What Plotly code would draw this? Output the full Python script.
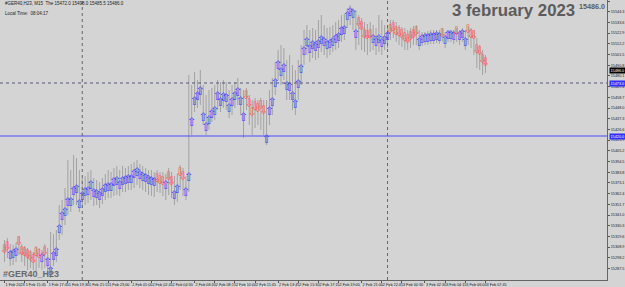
import plotly.graph_objects as go

# ---------------- data ----------------
symbol_header = "#GER40,H23, M15  The 15472.0 15498.0 15485.5 15486.0"
local_time = "Local Time:  08:04:17"
date_caption = "3 february 2023"
last_price = 15486.0
line_dotted_price = 15473.0
line_solid_price = 15420.0
separator_bars = [27, 133]

# signal direction per bar (U = blue up arrow, D = red down arrow)
signal_dir_parts = [
    "DDUUUDDDDDDDDUDUUUU", "UUUUUUUU",
    "UUUUUUUUUUUUUUUUUUUUUUUUUU", "DDDUDDUUDDUU",
    "UUUUUUUUUUUUUUUUUUU", "DDDDDDD", "UUUUUUUUUUUUU",
    "UUUUUUUUUUUUUUUUUUU", "DDDDD", "UUUUUU", "DDDDDDDDDD", "UUUUUUUU",
    "D", "UUUU", "D", "UUU", "DDDDDDD",
]

signal_price = [
    15306, 15309, 15300, 15301, 15303, 15314, 15304, 15303, 15301, 15299, 15296, 15303, 15301, 15297, 15304, 15293, 15284, 15299, 15303,
    15326, 15339, 15343, 15353, 15353, 15364, 15366, 15351,
    15359, 15363, 15364, 15370, 15362, 15361, 15359, 15363, 15367, 15368, 15368, 15373, 15374, 15370, 15374, 15375, 15376, 15376, 15381,
    15383, 15380, 15378, 15377, 15375, 15374, 15373, 15377, 15375, 15374, 15370, 15379, 15374, 15360, 15366, 15383, 15379, 15363, 15378,
    15433, 15454, 15459, 15464, 15438, 15428, 15435, 15441, 15444, 15459, 15453, 15458, 15457, 15447, 15453, 15459, 15463, 15454, 15438,
    15460, 15452, 15443, 15449, 15447, 15450, 15445, 15416, 15444, 15453, 15472, 15490, 15483, 15487, 15469, 15468, 15459, 15451, 15471, 15486,
    15504, 15513, 15506, 15510, 15508, 15511, 15515, 15513, 15510, 15511, 15513, 15516, 15518, 15524, 15525, 15539, 15543, 15541, 15521,
    15533, 15529, 15521, 15520, 15521, 15516, 15513, 15516, 15512, 15515, 15519, 15526, 15528, 15524, 15523, 15521, 15518, 15516, 15519,
    15521, 15524, 15513, 15516, 15517, 15517, 15518, 15518, 15519, 15518, 15522, 15515, 15520, 15520, 15519, 15524, 15519, 15521, 15513,
    15526, 15521, 15520, 15506, 15504, 15496, 15493,
]

bar_high = [
    15316, 15318, 15312, 15311, 15313, 15320, 15312, 15310, 15308, 15306, 15304, 15310, 15308, 15306, 15312, 15308, 15324, 15322, 15326,
    15351, 15356, 15368, 15396, 15386, 15401, 15398, 15386,
    15378, 15380, 15384, 15386, 15378, 15376, 15374, 15378, 15382, 15386, 15384, 15388, 15390, 15386, 15390, 15388, 15390, 15392, 15394,
    15396, 15392, 15390, 15388, 15386, 15386, 15384, 15386, 15384, 15384, 15382, 15388, 15384, 15380, 15382, 15391, 15388, 15380, 15481,
    15471, 15484, 15476, 15486, 15471, 15461, 15466, 15468, 15471, 15476, 15474, 15476, 15474, 15466, 15471, 15474, 15478, 15468, 15466,
    15468, 15461, 15456, 15458, 15456, 15458, 15456, 15456, 15466, 15478, 15494, 15506, 15511, 15508, 15496, 15501, 15491, 15486, 15496, 15511,
    15526, 15531, 15526, 15528, 15526, 15536, 15541, 15531, 15528, 15529, 15531, 15534, 15536, 15541, 15542, 15548, 15551, 15548, 15546,
    15541, 15538, 15534, 15532, 15534, 15531, 15528, 15541, 15536, 15531, 15531, 15536, 15536, 15534, 15531, 15529, 15528, 15526, 15528,
    15530, 15531, 15526, 15524, 15524, 15525, 15526, 15526, 15526, 15526, 15528, 15524, 15526, 15526, 15526, 15528, 15526, 15528, 15526,
    15530, 15528, 15526, 15518, 15511, 15506, 15501,
]

bar_low = [
    15294, 15298, 15290, 15291, 15294, 15301, 15294, 15290, 15286, 15288, 15286, 15284, 15288, 15286, 15288, 15281, 15278, 15290, 15294,
    15316, 15321, 15331, 15341, 15344, 15351, 15351, 15344,
    15348, 15351, 15353, 15356, 15350, 15351, 15348, 15352, 15356, 15358, 15358, 15360, 15361, 15360, 15364, 15364, 15366, 15366, 15368,
    15371, 15368, 15366, 15364, 15361, 15360, 15359, 15364, 15363, 15360, 15356, 15361, 15358, 15351, 15354, 15366, 15360, 15356, 15364,
    15421, 15444, 15448, 15451, 15431, 15421, 15426, 15434, 15436, 15446, 15444, 15448, 15446, 15438, 15441, 15448, 15451, 15441, 15418,
    15446, 15431, 15421, 15428, 15431, 15426, 15421, 15411, 15431, 15441, 15461, 15476, 15471, 15476, 15456, 15456, 15446, 15441, 15456, 15471,
    15491, 15501, 15494, 15498, 15496, 15498, 15504, 15501, 15498, 15501, 15504, 15506, 15508, 15514, 15516, 15528, 15531, 15526, 15506,
    15511, 15506, 15504, 15501, 15504, 15506, 15501, 15504, 15501, 15506, 15508, 15516, 15518, 15514, 15511, 15509, 15506, 15506, 15508,
    15511, 15511, 15506, 15510, 15511, 15511, 15512, 15512, 15513, 15512, 15514, 15508, 15514, 15514, 15512, 15514, 15511, 15514, 15506,
    15511, 15508, 15501, 15488, 15486, 15481, 15483,
]

price_ticks = [15555.0, 15544.3, 15533.6, 15522.9, 15512.2, 15501.5, 15490.8, 15480.1, 15469.4, 15458.7,
               15448.0, 15437.3, 15426.6, 15415.9, 15405.2, 15394.5, 15383.8, 15373.1, 15362.4, 15351.7,
               15341.0, 15330.3, 15319.6, 15308.9, 15298.2, 15287.5]

time_tick_bars = [0, 7, 15, 22, 29, 36, 44, 51, 58, 66, 73, 80, 87, 95, 102, 109, 116, 124, 131, 138, 146, 153, 160, 167]
time_tick_labels = ["1 Feb 2023", "1 Feb 15:45", "1 Feb 17:45", "1 Feb 19:30", "1 Feb 21:15", "1 Feb 23:00",
                    "2 Feb 01:00", "2 Feb 02:45", "2 Feb 04:30", "2 Feb 06:30", "2 Feb 08:15", "2 Feb 10:00",
                    "2 Feb 11:45", "2 Feb 13:45", "2 Feb 15:30", "2 Feb 17:15", "2 Feb 19:00", "2 Feb 21:00",
                    "2 Feb 22:45", "3 Feb 00:30", "3 Feb 02:30", "3 Feb 04:15", "3 Feb 06:00", "3 Feb 07:45"]

# ---------------- figure ----------------
signal_dir = list("".join(signal_dir_parts))
n = len(signal_price)
bars = list(range(n))

bx, by = [], []
for i in bars:
    bx += [i, i, None]
    by += [bar_low[i], bar_high[i], None]

BG = "#d4d4d4"
fig = go.Figure()
fig.add_trace(go.Scatter(x=bx, y=by, mode="lines", line=dict(color="#a2a2a2", width=1),
                         hoverinfo="skip"))

ux = [i for i in bars if signal_dir[i] == "U"]
dx = [i for i in bars if signal_dir[i] == "D"]
fig.add_trace(go.Scatter(x=ux, y=[signal_price[i] for i in ux], mode="text", text=["⇧"] * len(ux),
                         textposition="middle center", cliponaxis=True,
                         textfont=dict(family="DejaVu Sans", size=11.5, color="#4040ff")))
fig.add_trace(go.Scatter(x=dx, y=[signal_price[i] for i in dx], mode="text", text=["⇩"] * len(dx),
                         textposition="middle center", cliponaxis=True,
                         textfont=dict(family="DejaVu Sans", size=11.5, color="#ff5555")))

shapes = [
    dict(type="line", xref="paper", x0=0, x1=1, yref="y", y0=line_dotted_price, y1=line_dotted_price,
         line=dict(color="#55557a", width=1, dash="dot")),
    dict(type="line", xref="paper", x0=0, x1=1, yref="y", y0=line_solid_price, y1=line_solid_price,
         line=dict(color="#4b4bff", width=1)),
]
for s in separator_bars:
    shapes.append(dict(type="line", xref="x", x0=s, x1=s, yref="paper", y0=0, y1=1,
                       line=dict(color="#666666", width=1, dash="dot")))

small = dict(family="Liberation Sans", size=4.5, color="#222222")
annotations = [
    dict(xref="paper", yref="paper", x=0.005, y=0.988, xanchor="left", yanchor="middle",
         text=symbol_header, showarrow=False, font=small),
    dict(xref="paper", yref="paper", x=0.005, y=0.952, xanchor="left", yanchor="middle",
         text=local_time, showarrow=False, font=small),
    dict(xref="paper", yref="paper", x=0.742, y=0.962, xanchor="left", yanchor="middle",
         text="<b>" + date_caption + "</b>", showarrow=False,
         font=dict(family="Liberation Sans", size=16.8, color="#5c5c5c")),
    dict(xref="paper", yref="paper", x=0.951, y=0.978, xanchor="left", yanchor="middle",
         text="<b>%.1f</b>" % last_price, showarrow=False,
         font=dict(family="Liberation Sans", size=7.2, color="#5c5c5c")),
    dict(xref="paper", yref="paper", x=0.002, y=0.022, xanchor="left", yanchor="middle",
         text="<b>#GER40_H23</b>", showarrow=False,
         font=dict(family="Liberation Sans", size=9, color="#6a6a6a")),
]
for p, col in [(last_price, "#000000"), (line_dotted_price, "#2e2eff"), (line_solid_price, "#2e2eff")]:
    annotations.append(dict(xref="paper", yref="y", x=1.003, y=p, xanchor="left", yanchor="middle",
                            text="%.1f" % p, showarrow=False, bgcolor=col, borderpad=0.5,
                            font=dict(family="Liberation Sans", size=3.8, color="#ffffff")))

px_per_bar = 2.88
x0 = -4.5 / px_per_bar
tickfont = dict(family="Liberation Sans", size=3.8, color="#222222")
fig.update_layout(
    width=625, height=287,
    margin=dict(l=0, r=18, t=0, b=7, pad=0),
    paper_bgcolor=BG, plot_bgcolor=BG,
    showlegend=False,
    shapes=shapes, annotations=annotations,
    xaxis=dict(range=[x0, x0 + 607 / px_per_bar], showgrid=False, zeroline=False,
               tickvals=time_tick_bars, ticktext=time_tick_labels, ticks="outside", ticklen=2,
               tickangle=0, automargin=False,
               tickcolor="#555555", ticklabelposition="outside right",
               tickfont=tickfont,
               showline=True, linecolor="#666666", linewidth=1, mirror=True),
    yaxis=dict(range=[15276, 15556], side="right", showgrid=False, zeroline=False,
               tickvals=price_ticks, tickformat=".1f", ticks="outside", ticklen=2,
               automargin=False, tickcolor="#555555",
               tickfont=tickfont,
               showline=True, linecolor="#666666", linewidth=1, mirror=True),
)

fig.write_html("out.html")
